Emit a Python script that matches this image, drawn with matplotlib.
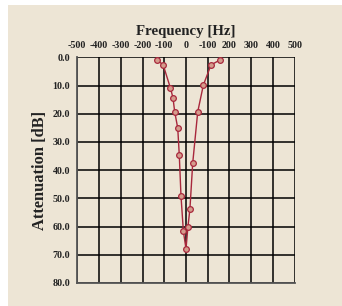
import matplotlib
matplotlib.use("Agg")
import matplotlib.pyplot as plt
from matplotlib.patches import Rectangle

# filter response (Hz, dB)
freq = [-132, -105, -72, -60, -52, -38, -31, -23, -12, 0, 9, 18, 31, 54, 80, 115, 155]
atten = [1.0, 2.7, 10.8, 14.3, 19.3, 25.1, 34.5, 49.2, 61.7, 67.9, 60.0, 53.8, 37.4, 19.3, 9.8, 2.7, 1.0]

x_ticks = [-500, -400, -300, -200, -100, 0, 100, 200, 300, 400, 500]
x_labels = ["-500", "-400", "-300", "-200", "-100", "0", "-100", "200", "300", "400", "500"]
y_ticks = [0, 10, 20, 30, 40, 50, 60, 70, 80]
y_labels = ["%.1f" % v for v in y_ticks]

bg = "#ede5d5"
font = dict(family="Liberation Serif", weight="bold")

fig = plt.figure(figsize=(3.42, 3.06), dpi=100, facecolor="white")
fig.patches.append(Rectangle((8 / 342, 0), 1, 1 - 5 / 306, transform=fig.transFigure,
                             facecolor=bg, edgecolor="none", zorder=-1))

ax = fig.add_axes([77.3 / 342, 23 / 306, 217.4 / 342, 225.7 / 306])
ax.set_facecolor(bg)
ax.plot(freq, atten, color="#a8283c", lw=1.0, marker="o", ms=4.1,
        mfc="#d49c8c", mec="#a8283c", mew=0.9, clip_on=False, zorder=3)

ax.set_xlim(-500, 500)
ax.set_ylim(80, 0)
ax.xaxis.tick_top()
ax.xaxis.set_label_position("top")
ax.set_xticks(x_ticks)
ax.set_xticklabels(x_labels, fontsize=7.2, **font)
ax.set_yticks(y_ticks)
ax.set_yticklabels(y_labels, fontsize=7.2, **font)
ax.tick_params(axis="x", length=0, pad=5.5, colors="#222222")
ax.tick_params(axis="y", length=0, pad=5, colors="#222222")
ax.grid(True, color="black", lw=1.1)
for s in ax.spines.values():
    s.set_visible(False)
ax.spines["left"].set_visible(True)
ax.spines["bottom"].set_visible(True)
ax.spines["left"].set_color("#555555")
ax.spines["bottom"].set_color("#555555")
ax.spines["left"].set_linewidth(1.3)
ax.spines["bottom"].set_linewidth(1.3)

ax.set_xlabel("Frequency [Hz]", fontsize=10.7, labelpad=4, color="#222222", **font)
ax.set_ylabel("Attenuation [dB]", fontsize=11.8, labelpad=3, color="#222222", **font)

fig.savefig("out.png", dpi=100, facecolor="white")
